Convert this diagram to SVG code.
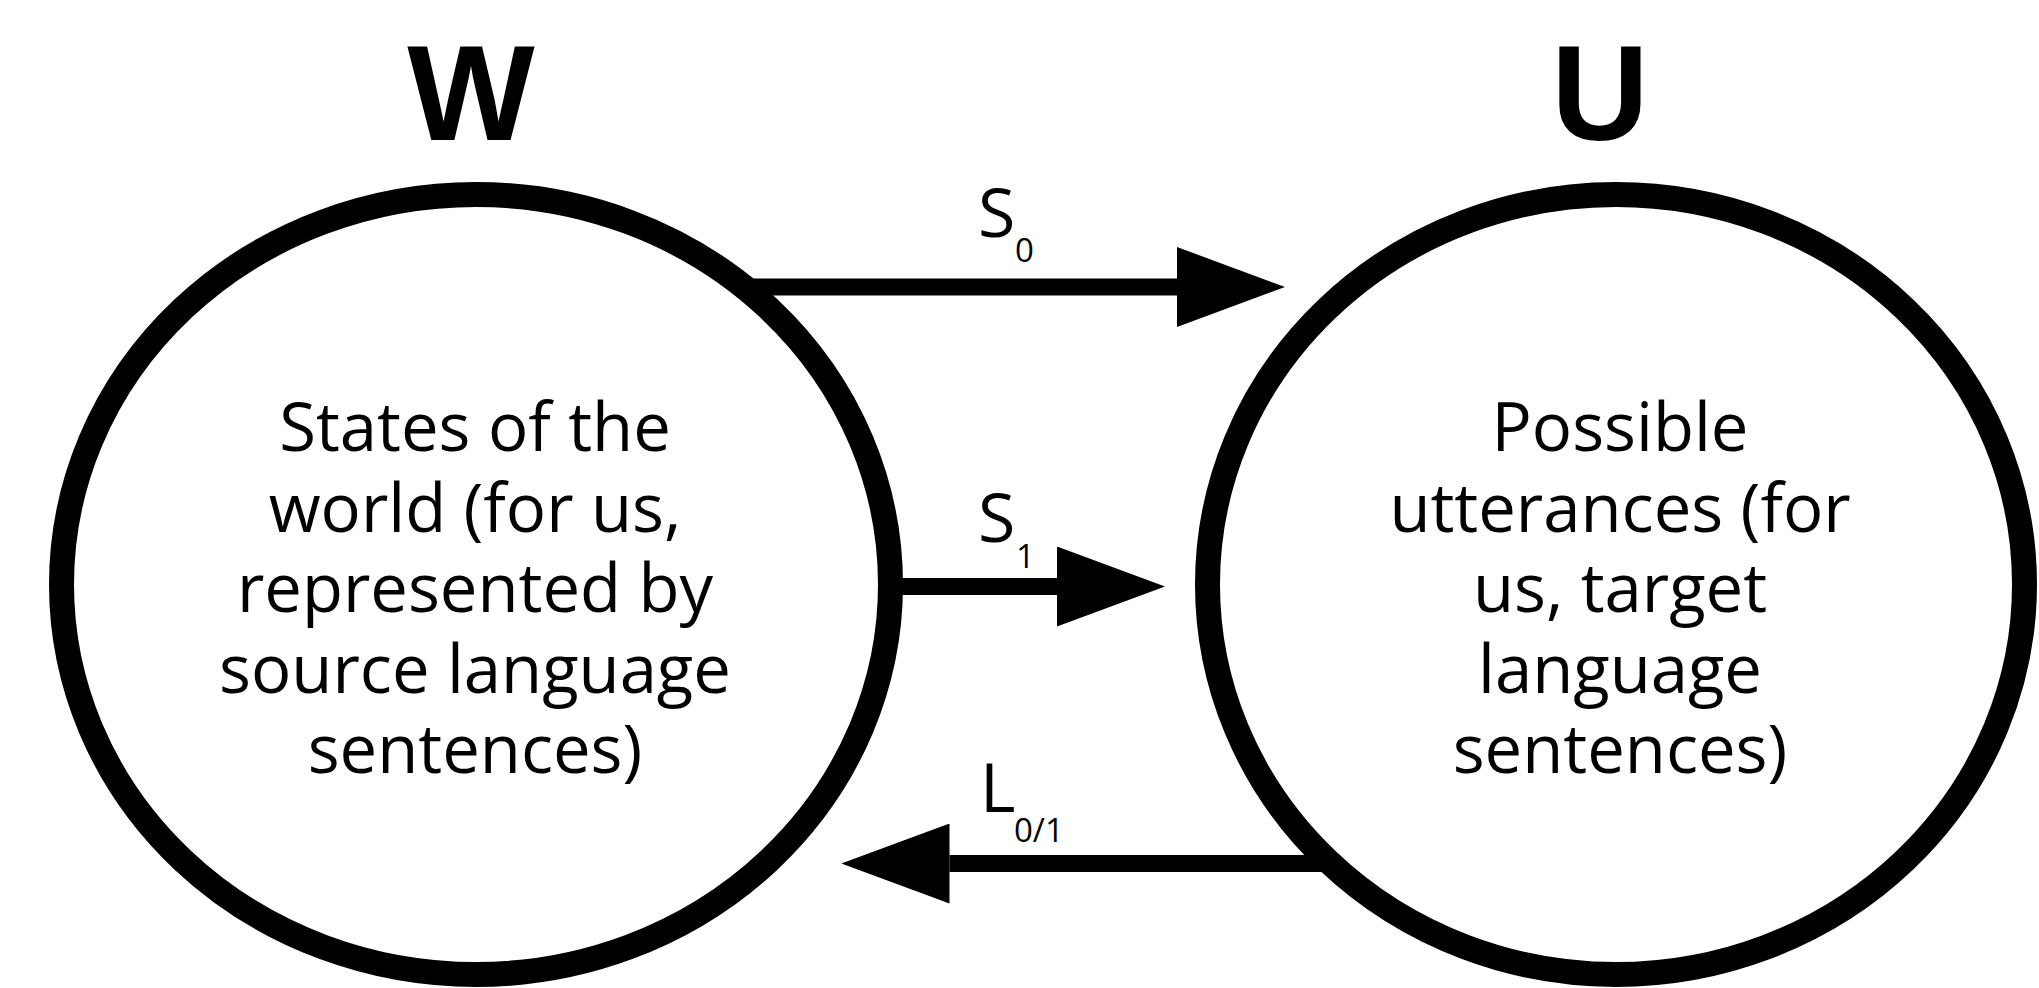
<svg xmlns="http://www.w3.org/2000/svg" width="2039" height="988" viewBox="0 0 2039 988">
<style>
.node{fill:none;stroke:#000;stroke-width:25}
.title{font-family:"Liberation Sans","Open Sans",sans-serif;font-weight:bold;font-size:135px;fill:#000;text-anchor:middle}
.body{font-family:"Open Sans","Liberation Sans",sans-serif;font-size:67px;fill:#000;text-anchor:middle}
.lbl{font-family:"Open Sans","Liberation Sans",sans-serif;font-size:68px;fill:#000}
.sub{font-family:"Open Sans","Liberation Sans",sans-serif;font-size:33px;fill:#000}
.edge{stroke:#000;stroke-width:17;fill:none}
</style>
<defs>
<marker id="arrow" viewBox="0 -40 108 80" markerWidth="108" markerHeight="80" refX="0" refY="0" orient="auto" markerUnits="userSpaceOnUse">
<path d="M0,-40 L108,0 L0,40 Z" fill="#000"/>
</marker>
</defs>
<rect width="2039" height="988" fill="#fff"/>
<g id="W">
<text class="title" x="471" y="140">W</text>
<ellipse class="node" cx="476" cy="584.5" rx="414.5" ry="390"/>
<text class="body"><tspan x="475" y="451">States of the</tspan><tspan x="475" y="531.5">world (for us,</tspan><tspan x="475" y="612">represented by</tspan><tspan x="475" y="692.5">source language</tspan><tspan x="475" y="773">sentences)</tspan></text>
</g>
<g id="U">
<text class="title" x="1600" y="140">U</text>
<ellipse class="node" cx="1616" cy="584.5" rx="408.5" ry="390"/>
<text class="body"><tspan x="1620" y="451">Possible</tspan><tspan x="1620" y="531.5">utterances (for</tspan><tspan x="1620" y="612">us, target</tspan><tspan x="1620" y="692.5">language</tspan><tspan x="1620" y="773">sentences)</tspan></text>
</g>
<g id="connectors">
<line class="edge" x1="744" y1="287" x2="1177" y2="287" marker-end="url(#arrow)"/>
<text class="lbl" x="978" y="237">S</text>
<text class="sub" x="1015" y="262">0</text>
<line class="edge" x1="891" y1="586.5" x2="1057" y2="586.5" marker-end="url(#arrow)"/>
<text class="lbl" x="978" y="542">S</text>
<text class="sub" x="1016" y="568">1</text>
<line class="edge" x1="1330" y1="863.5" x2="949.5" y2="863.5" marker-end="url(#arrow)"/>
<text class="lbl" x="980" y="812">L</text>
<text class="sub" x="1014" y="842">0/1</text>
</g>
</svg>
